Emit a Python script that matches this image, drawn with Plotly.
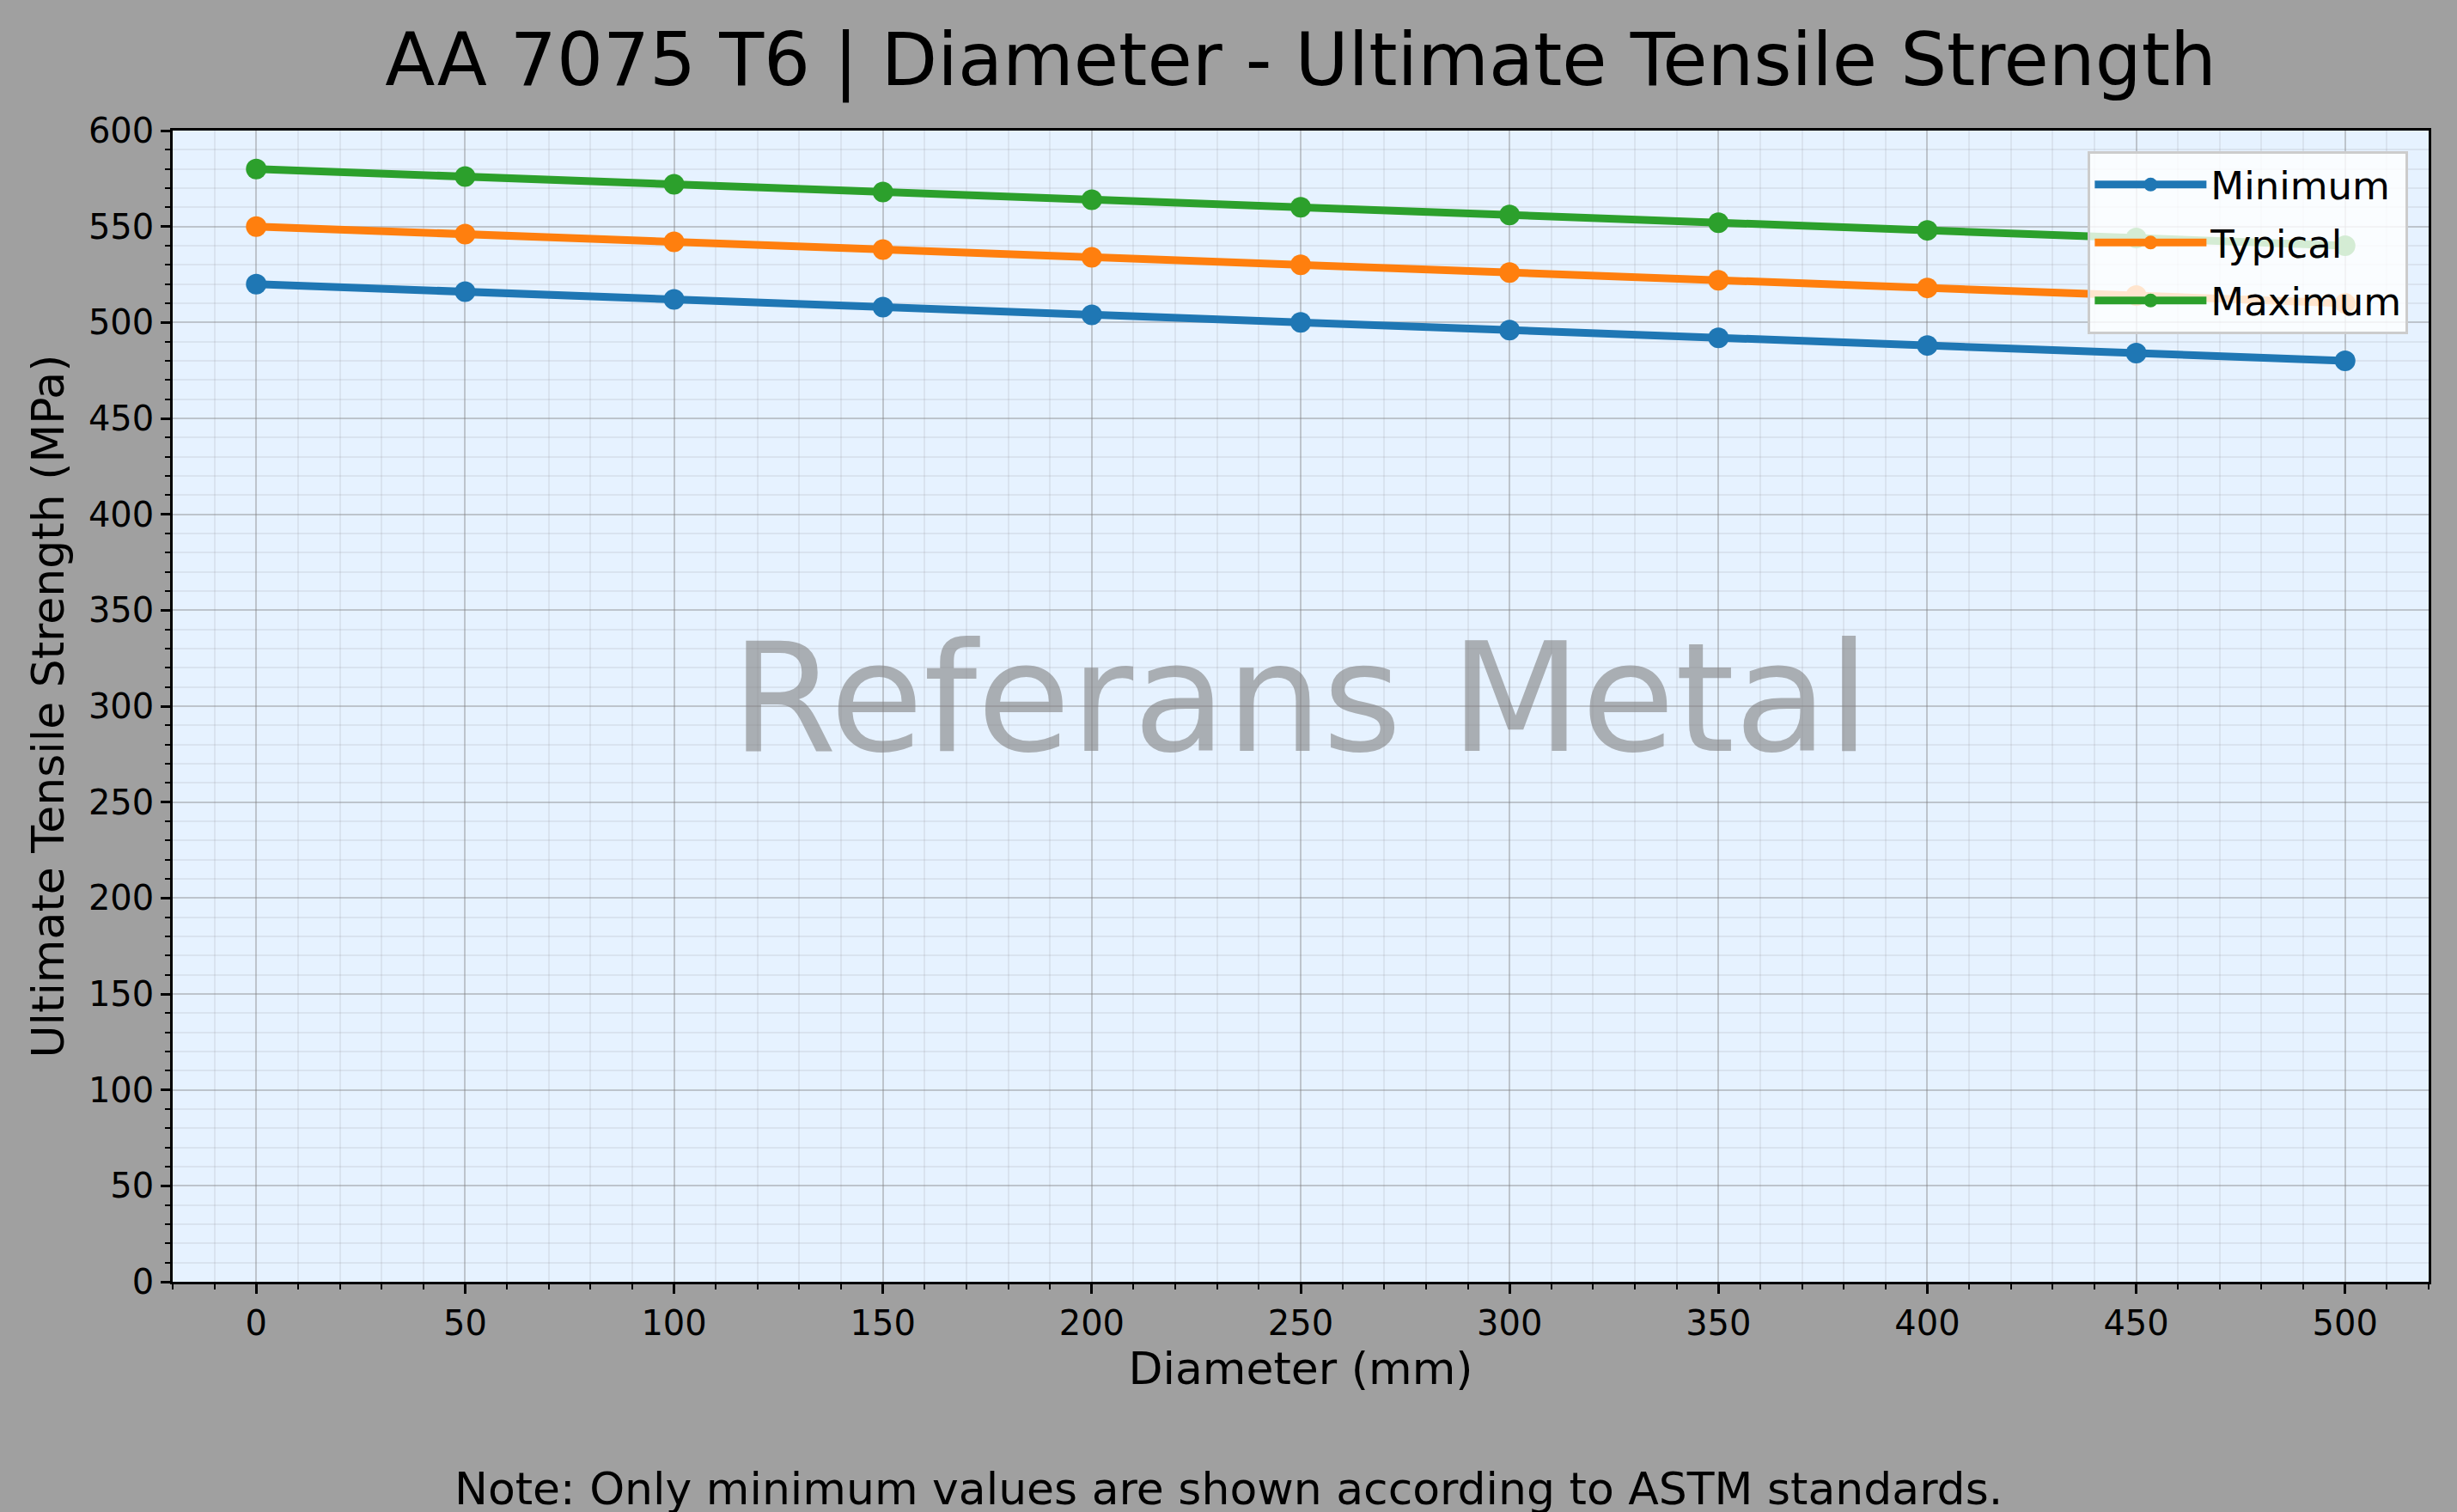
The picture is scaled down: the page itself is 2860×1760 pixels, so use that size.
import plotly.graph_objects as go

diameter = [0, 50, 100, 150, 200, 250, 300, 350, 400, 450, 500]
uts_minimum = [520, 516, 512, 508, 504, 500, 496, 492, 488, 484, 480]
uts_typical = [550, 546, 542, 538, 534, 530, 526, 522, 518, 514, 510]
uts_maximum = [580, 576, 572, 568, 564, 560, 556, 552, 548, 544, 540]
series_names = ["Minimum", "Typical", "Maximum"]
series_colors = ["#1f77b4", "#ff7f0e", "#2ca02c"]

title_text = "AA 7075 T6 | Diameter - Ultimate Tensile Strength"
x_label = "Diameter (mm)"
y_label = "Ultimate Tensile Strength (MPa)"
watermark = "Referans Metal"
note_text = "Note: Only minimum values are shown according to ASTM standards."

FONT = "DejaVu Sans"

fig = go.Figure()
for name, vals, col in zip(series_names, [uts_minimum, uts_typical, uts_maximum], series_colors):
    fig.add_trace(go.Scatter(
        x=diameter, y=vals, name=name, mode="lines+markers",
        legendgroup=name,
        line=dict(color=col, width=9),
        marker=dict(color=col, size=24),
    ))

axis_common = dict(
    showline=True, linecolor="black", linewidth=2.5, mirror=True,
    ticks="outside", ticklen=11, tickwidth=2.5, tickcolor="black",
    showgrid=True, gridcolor="rgba(128,128,128,0.40)", gridwidth=2,
    zeroline=False,
    tickfont=dict(family=FONT, size=40, color="black"),
)

fig.update_xaxes(
    range=[-20, 520], dtick=50, tick0=0,
    minor=dict(dtick=10, ticklen=6, tickwidth=2, tickcolor="black", ticks="outside",
               showgrid=True, gridcolor="rgba(128,128,128,0.13)", gridwidth=2),
    title=dict(text=x_label, font=dict(family=FONT, size=52, color="black"), standoff=13),
    **axis_common,
)
fig.update_yaxes(
    range=[0, 600], dtick=50, tick0=0,
    minor=dict(dtick=10, ticklen=6, tickwidth=2, tickcolor="black", ticks="outside",
               showgrid=True, gridcolor="rgba(128,128,128,0.13)", gridwidth=2),
    title=dict(text=y_label, font=dict(family=FONT, size=52, color="black"), standoff=12),
    **axis_common,
)

fig.add_annotation(
    text=watermark, xref="paper", yref="paper", x=0.5, y=0.507,
    xanchor="center", yanchor="middle", showarrow=False,
    font=dict(family=FONT, size=177, color="rgba(128,128,128,0.6)"),
)
fig.add_annotation(
    text=note_text, xref="paper", yref="paper", x=(1430 - 201) / 2626, y=-0.18,
    xanchor="center", yanchor="middle", showarrow=False,
    font=dict(family=FONT, size=52, color="black"),
)

fig.update_layout(
    width=2860, height=1760, autosize=False,
    margin=dict(l=201, r=33, t=152, b=268),
    paper_bgcolor="#A0A0A0", plot_bgcolor="#E6F2FF",
    font=dict(family=FONT, color="black"),
    title=dict(text=title_text, x=0.5, xanchor="center", xref="paper",
               y=1 - 69 / 1760, yref="container", yanchor="middle",
               font=dict(family=FONT, size=85, color="black")),
    legend=dict(x=0.991, y=0.982, xanchor="right", yanchor="top",
                bgcolor="rgba(255,255,255,0.8)", bordercolor="#CCCCCC", borderwidth=3,
                itemwidth=130, tracegroupgap=6, traceorder="grouped",
                font=dict(family=FONT, size=45, color="black")),
    showlegend=True,
)

fig.write_html("out.html", config={"displayModeBar": False},
               post_script="document.body.style.margin='0';document.body.style.padding='0';")
